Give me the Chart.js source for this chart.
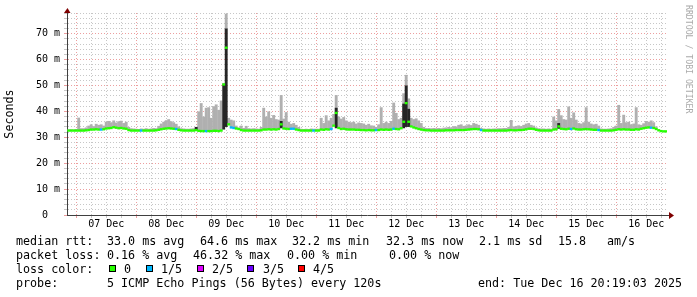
<!DOCTYPE html>
<html>
<head>
<meta charset="utf-8">
<script src="https://cdn.jsdelivr.net/npm/chart.js@4/dist/chart.umd.min.js"></script>
<style>
  html, body { margin: 0; padding: 0; background: #fff; }
  #wrap { position: relative; width: 697px; height: 297px; overflow: hidden; font-family: "DejaVu Sans Mono", monospace; }
  #graph { position: absolute; left: 0; top: 0; }
  .t { position: absolute; font-size: 11.7px; line-height: 14px; white-space: pre; color: #000; }
  .box { position: absolute; width: 5px; height: 5px; border: 1px solid #000; }
  #mark { position: absolute; left: 684px; top: 5px; writing-mode: vertical-rl; font-size: 8.2px; line-height: 9px; color: #aaa; white-space: pre; }
</style>
</head>
<body>
<div id="wrap">
  <canvas id="graph" width="697" height="297"></canvas>
  <div id="mark">RRDTOOL / TOBI OETIKER</div>

  <div class="t" style="left:16px;top:234px">median rtt:</div>
  <div class="t" style="left:107px;top:234px">33.0 ms avg</div>
  <div class="t" style="left:200px;top:234px">64.6 ms max</div>
  <div class="t" style="left:292px;top:234px">32.2 ms min</div>
  <div class="t" style="left:386px;top:234px">32.3 ms now</div>
  <div class="t" style="left:479px;top:234px">2.1 ms sd</div>
  <div class="t" style="left:558px;top:234px">15.8</div>
  <div class="t" style="left:607px;top:234px">am/s</div>

  <div class="t" style="left:16px;top:248px">packet loss:</div>
  <div class="t" style="left:107px;top:248px">0.16 % avg</div>
  <div class="t" style="left:193px;top:248px">46.32 % max</div>
  <div class="t" style="left:287px;top:248px">0.00 % min</div>
  <div class="t" style="left:389px;top:248px">0.00 % now</div>

  <div class="t" style="left:16px;top:262px">loss color:</div>
  <div id="losslegend"></div>

  <div class="t" style="left:16px;top:276px">probe:</div>
  <div class="t" style="left:107px;top:276px">5 ICMP Echo Pings (56 Bytes) every 120s</div>
  <div class="t" style="left:478px;top:276px">end: Tue Dec 16 20:19:03 2025</div>
</div>

<script>
// hours counted from 07 Dec 00:00, one value per hour starting at 06 Dec 21:00
const startHour = -3;
const dayLabels = ["07 Dec", "08 Dec", "09 Dec", "10 Dec", "11 Dec", "12 Dec", "13 Dec", "14 Dec", "15 Dec", "16 Dec"];

// median rtt (ms)
const medianRtt = [
  32.6, 32.6, 32.6,
  32.6, 32.6, 32.6, 32.6, 32.7, 32.8, 33.0, 33.0, 33.1, 33.0, 33.0, 33.1, 33.4, 33.5, 33.6, 33.9, 33.7, 33.5, 33.6, 33.4, 33.3, 32.8, 32.6, 32.6,
  32.6, 32.6, 32.6, 32.6, 32.6, 32.6, 32.6, 32.6, 32.7, 32.9, 33.1, 33.3, 33.4, 33.5, 33.4, 33.3, 33.2, 32.9, 32.7, 32.6, 32.6, 32.6, 32.6, 32.6,
  32.8, 32.5, 32.4, 32.4, 32.4, 32.4, 32.4, 32.5, 32.5, 32.4, 32.6, 50.4, 64.6, 35.0, 33.8, 33.6, 33.4, 33.2, 32.8, 32.6, 32.6, 32.6, 32.6, 32.6,
  32.6, 32.6, 32.7, 33.0, 33.0, 33.1, 33.0, 33.1, 33.0, 33.2, 35.0, 33.4, 33.3, 33.2, 33.3, 33.3, 33.0, 32.8, 32.6, 32.6, 32.6, 32.6, 32.6, 32.6,
  32.6, 32.6, 33.0, 32.9, 33.1, 33.0, 33.2, 34.5, 39.4, 33.6, 33.2, 33.3, 33.1, 33.0, 33.0, 33.0, 32.9, 32.9, 32.8, 32.8, 32.7, 32.8, 32.7, 32.7,
  32.8, 32.8, 33.0, 32.9, 33.0, 32.9, 33.0, 33.3, 33.2, 33.1, 33.5, 36.0, 43.2, 36.0, 34.2, 33.8, 33.5, 33.2, 33.0, 32.8, 32.7, 32.7, 32.6, 32.6,
  32.6, 32.6, 32.6, 32.6, 32.7, 32.7, 32.7, 32.7, 32.8, 32.8, 32.8, 32.8, 32.9, 33.0, 33.1, 33.2, 33.2, 33.1, 32.8, 32.6, 32.6, 32.6, 32.6, 32.6,
  32.6, 32.6, 32.6, 32.6, 32.6, 32.7, 32.8, 32.7, 32.7, 32.8, 32.8, 32.9, 33.1, 33.3, 33.3, 33.2, 32.9, 32.7, 32.6, 32.6, 32.6, 32.6, 32.6, 33.0,
  33.1, 34.2, 33.3, 33.2, 33.1, 33.3, 33.2, 33.4, 33.1, 33.0, 33.0, 33.1, 33.2, 33.1, 33.0, 32.9, 32.9, 32.8, 32.6, 32.6, 32.6, 32.6, 32.6, 32.7,
  32.9, 33.1, 33.0, 33.1, 33.0, 33.0, 32.9, 32.9, 33.1, 33.0, 33.3, 33.5, 33.7, 33.8, 33.7, 33.6, 33.2, 32.7, 32.4, 32.3, 32.3
];

// highest ping in each hour (ms)
const pingMax = [
  33.0, 33.1, 33.0,
  33.2, 37.6, 33.5, 33.5, 33.8, 34.5, 35.0, 34.3, 35.2, 34.8, 35.0, 34.5, 36.0, 36.3, 35.8, 36.5, 35.7, 36.2, 36.4, 35.5, 36.0, 34.0, 33.5, 33.4,
  33.3, 33.2, 33.4, 33.3, 33.5, 33.3, 33.4, 33.6, 33.5, 34.4, 35.3, 36.0, 36.6, 37.0, 36.2, 35.8, 35.2, 34.2, 33.5, 33.4, 33.3, 33.3, 33.4, 33.5,
  34.0, 40.0, 43.2, 38.0, 41.4, 41.6, 37.5, 42.0, 42.7, 40.6, 44.2, 51.0, 77.7, 37.5, 36.8, 36.5, 34.5, 33.8, 34.5, 33.6, 34.4, 33.5, 33.4, 33.5,
  33.4, 33.3, 34.0, 41.4, 38.0, 40.0, 37.5, 38.6, 37.0, 36.8, 46.3, 37.2, 39.7, 36.0, 35.2, 35.5, 34.8, 34.0, 33.3, 33.2, 33.3, 33.2, 33.4, 33.3,
  33.3, 33.3, 37.5, 35.5, 38.5, 36.5, 37.5, 39.0, 46.3, 38.0, 37.2, 37.8, 36.5, 36.0, 35.8, 36.0, 35.3, 35.7, 35.5, 35.3, 34.8, 35.2, 34.6, 34.5,
  34.0, 35.0, 41.6, 35.5, 36.0, 35.5, 36.3, 43.4, 39.4, 37.0, 37.5, 47.0, 54.1, 45.0, 37.5, 37.0, 37.3, 36.5, 35.5, 34.0, 33.6, 33.6, 33.5, 33.6,
  33.5, 33.6, 33.5, 33.7, 33.8, 34.0, 33.8, 34.3, 34.2, 34.8, 35.0, 34.4, 34.6, 35.0, 34.7, 35.5, 35.2, 34.8, 33.6, 33.4, 33.3, 33.4, 33.3, 33.4,
  33.4, 33.5, 33.5, 33.6, 33.6, 34.0, 36.7, 34.2, 34.4, 34.6, 34.3, 34.8, 35.3, 35.5, 34.8, 34.5, 33.8, 33.5, 33.4, 33.4, 33.3, 33.4, 33.3, 38.0,
  36.5, 40.9, 38.5, 37.0, 36.8, 41.9, 37.5, 39.6, 36.8, 35.5, 35.3, 35.8, 41.6, 36.0, 35.3, 35.0, 35.2, 34.5, 33.4, 33.3, 33.3, 33.4, 33.5, 34.0,
  34.5, 42.5, 35.5, 38.7, 35.8, 36.0, 35.0, 35.3, 41.6, 35.0, 34.8, 35.4, 36.3, 36.0, 36.5, 35.8, 34.2, 33.0, 32.6, 32.4, 32.4
];

// dark core of the smoke at the busy hours
const coreHours = [48, 59, 60, 82, 104, 131, 132, 133, 193];
const coreLow = [32.6, 33.0, 34.0, 33.5, 33.5, 33.5, 34.0, 34.0, 33.3];
const coreHigh = [34.0, 50.4, 72.0, 36.3, 41.4, 43.0, 50.0, 41.0, 35.5];

// hours with lost pings (out of 5)
const lossHours = [10, 26, 40, 52, 62, 63, 86, 87, 95, 102, 120, 127, 162, 198, 209, 230];
const lossCounts = [1, 1, 1, 1, 1, 1, 1, 1, 1, 1, 1, 1, 1, 1, 1, 1];
const lossNames = ["0", "1/5", "2/5", "3/5", "4/5"];
const lossColors = ["#26ff00", "#00b8ff", "#dd00ff", "#6a00ff", "#ff0000"];

// legend for loss colours
const legendBoxX = [109, 146, 197, 247, 298];
const legendTextX = [124, 161, 212, 263, 313];
let lg = document.getElementById("losslegend");
lossNames.forEach((name, i) => {
  lg.innerHTML += `<div class="box" style="left:${legendBoxX[i]}px;top:265px;background:${lossColors[i]}"></div>` +
    `<div class="t" style="left:${legendTextX[i]}px;top:262px">${name}</div>`;
});

const hours = medianRtt.map((v, i) => startHour + i);
const lossAt = hours.map((h) => {
  let k = lossHours.indexOf(h);
  return k < 0 ? 0 : lossCounts[k];
});
const gridHours = [];
for (let h = 0; h <= 234; h += 6) gridHours.push(h);

const minorCol = "rgba(143,143,143,0.5)";
const majorCol = "rgba(222,80,80,0.55)";

const arrows = {
  id: "arrows",
  afterDraw(chart) {
    const { ctx, chartArea: a } = chart;
    ctx.save();
    ctx.fillStyle = "#7f0000";
    ctx.beginPath();
    ctx.moveTo(a.left - 3, a.top);
    ctx.lineTo(a.left + 3.5, a.top);
    ctx.lineTo(a.left + 0.5, a.top - 5);
    ctx.fill();
    ctx.strokeStyle = "#404040";
    ctx.lineWidth = 1;
    ctx.beginPath();
    ctx.moveTo(a.right, a.bottom + 0.5);
    ctx.lineTo(a.right + 2, a.bottom + 0.5);
    ctx.stroke();
    ctx.beginPath();
    ctx.moveTo(a.right + 2, a.bottom - 3);
    ctx.lineTo(a.right + 2, a.bottom + 4);
    ctx.lineTo(a.right + 7, a.bottom + 0.5);
    ctx.fill();
    ctx.restore();
  },
};

Chart.defaults.font.family = "'DejaVu Sans Mono', monospace";
Chart.defaults.color = "#000";

new Chart(document.getElementById("graph"), {
  type: "bar",
  data: {
    datasets: [
      {
        label: "median",
        data: hours.map((h, i) => ({ x: h, y: [medianRtt[i] - 0.45, medianRtt[i] + 0.45] })),
        backgroundColor: lossAt.map((n) => lossColors[n]),
        grouped: false,
        barPercentage: 1.15,
        categoryPercentage: 1,
        order: 0,
      },
      {
        label: "core",
        data: coreHours.map((h, k) => ({ x: h, y: [coreLow[k], coreHigh[k]] })),
        backgroundColor: "#262626",
        grouped: false,
        barPercentage: 1.15,
        categoryPercentage: 1,
        order: 1,
      },
      {
        label: "smoke",
        data: hours.map((h, i) => ({ x: h, y: [medianRtt[i], pingMax[i]] })),
        backgroundColor: "#b0b0b0",
        grouped: false,
        barPercentage: 1.15,
        categoryPercentage: 1,
        order: 2,
      },
    ],
  },
  options: {
    responsive: false,
    animation: false,
    devicePixelRatio: 1,
    layout: { padding: { top: 13, right: 30, left: 0, bottom: 0 } },
    plugins: { legend: { display: false }, tooltip: { enabled: false } },
    scales: {
      x: {
        type: "linear",
        min: -3.68,
        max: 236.32,
        offset: false,
        afterBuildTicks: (s) => {
          s.ticks = gridHours.map((v) => ({ value: v }));
        },
        afterFit: (s) => {
          s.height = 82;
        },
        grid: {
          offset: false,
          color: (c) => (c.tick && c.tick.value % 24 === 0 ? majorCol : minorCol),
          tickColor: (c) => (c.tick && c.tick.value % 24 === 0 ? majorCol : minorCol),
          tickLength: 3,
          tickBorderDash: [],
        },
        border: { display: true, color: "#404040", width: 1, dash: [1, 2] },
        ticks: {
          autoSkip: false,
          maxRotation: 0,
          minRotation: 0,
          padding: 0,
          font: { size: 10 },
          callback: (v) => (v % 24 === 12 ? dayLabels[(v - 12) / 24] : ""),
        },
      },
      y: {
        min: 0,
        max: 78,
        afterFit: (s) => {
          s.width = 67;
        },
        grid: {
          color: (c) => (c.tick && c.tick.value % 10 === 0 ? majorCol : minorCol),
          tickColor: (c) => (c.tick && c.tick.value % 10 === 0 ? majorCol : minorCol),
          tickLength: 3,
          tickBorderDash: [],
        },
        border: { display: true, color: "#404040", width: 1, dash: [1, 2] },
        ticks: {
          stepSize: 2,
          autoSkip: false,
          padding: 4,
          font: { size: 10 },
          callback: (v) => (v % 10 === 0 ? (v === 0 ? "0  " : v + " m") : ""),
        },
        title: {
          display: true,
          text: "Seconds",
          font: { size: 11.7 },
          padding: { top: 3, bottom: 0 },
        },
      },
    },
  },
  plugins: [arrows],
});
</script>
</body>
</html>
